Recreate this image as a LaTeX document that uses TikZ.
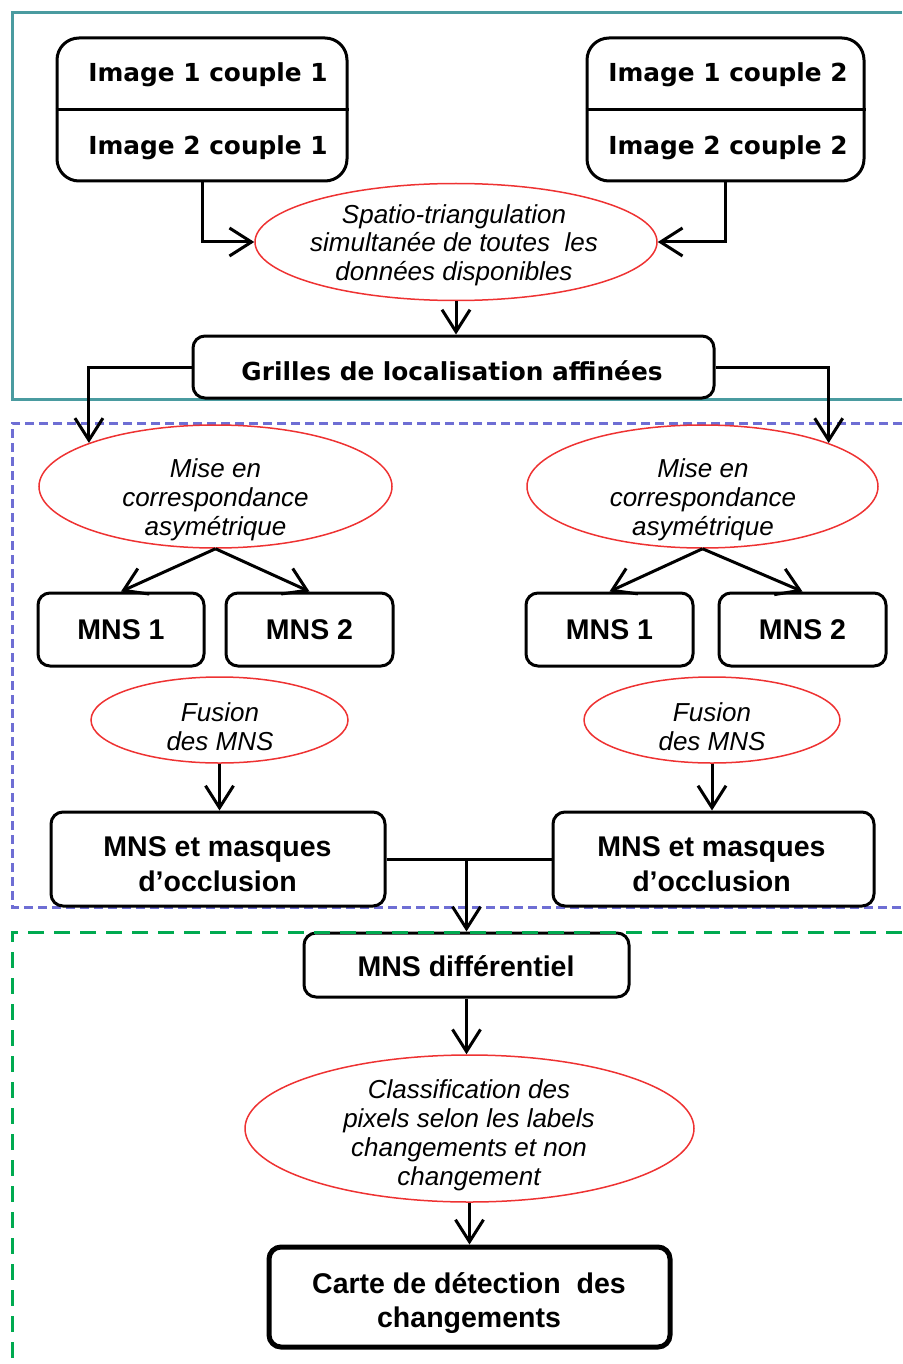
\documentclass[tikz,border=0pt]{standalone}
\usepackage{fontspec}
\setmainfont{Liberation Sans}
\newfontfamily\dvsans{DejaVu Sans}
\usetikzlibrary{arrows.meta,shapes.geometric}
\definecolor{frameteal}{RGB}{74,155,160}
\definecolor{frameblue}{RGB}{110,110,212}
\definecolor{framegreen}{RGB}{0,170,80}
\definecolor{ovalred}{RGB}{238,50,50}
\begin{document}
\begin{tikzpicture}[x=1pt,y=-1pt,
  >={Straight Barb[length=22pt,width=28pt]},
  conn/.style={->,line width=3pt},
  box/.style={draw,line width=3pt,rounded corners=12pt,inner sep=0pt},
  oval/.style={draw=ovalred,ellipse,line width=1.5pt,inner sep=0pt},
  btxt/.style={anchor=base,align=center,inner sep=0pt,font=\bfseries\fontsize{28.5}{35}\selectfont},
  dtxt/.style={anchor=base,inner sep=0pt,font=\dvsans\bfseries\fontsize{24.8}{28}\selectfont},
  itxt/.style={anchor=base,align=center,inner sep=0pt,font=\itshape\fontsize{26}{29}\selectfont},
]
\useasboundingbox (0,0) rectangle (902,1364);
% frames
\draw[frameteal,line width=3pt] (902,13) -- (12,13) -- (12,399) -- (902,399);
\draw[frameblue,line width=3pt,dash pattern=on 9pt off 5pt] (902,423) -- (12,423) -- (12,907) -- (902,907);

% image boxes
\node[box,rounded corners=22pt,minimum width=290pt,minimum height=143pt] (img1) at (202,109.5) {};
\draw[line width=3pt] (img1.west) -- (img1.east);
\node[dtxt] (img1a) at (208,82) {Image 1 couple 1};
\node[dtxt] (img1b) at (208,155) {Image 2 couple 1};
\node[box,rounded corners=22pt,minimum width=277pt,minimum height=143pt] (img2) at (725.5,109.5) {};
\draw[line width=3pt] (img2.west) -- (img2.east);
\node[dtxt] (img2a) at (728,82) {Image 1 couple 2};
\node[dtxt] (img2b) at (728,155) {Image 2 couple 2};

% spatio-triangulation (base = last line)
\node[oval,minimum width=402pt,minimum height=117pt] (spatio) at (456,242) {};
\node[itxt,font=\itshape\fontsize{26}{28.5}\selectfont] (spatiot) at (454,280) {Spatio-triangulation\\simultanée de toutes \ les\\données disponibles};

% grilles
\node[box,minimum width=521pt,minimum height=62pt] (grilles) at (453.5,367) {};
\node[dtxt] (grillest) at (452,380) {Grilles de localisation affinées};

% mise en correspondance
\node[oval,minimum width=353pt,minimum height=123pt] (mise1) at (215.5,486.5) {};
\node[itxt] (mise1t) at (215.5,535) {Mise en\\correspondance\\asymétrique};
\node[oval,minimum width=351pt,minimum height=123pt] (mise2) at (702.5,486.5) {};
\node[itxt] (mise2t) at (703,535) {Mise en\\correspondance\\asymétrique};

% MNS boxes
\node[box,minimum width=166pt,minimum height=73pt] (mns11) at (121,629.5) {};
\node[btxt] (mns11t) at (121,639) {MNS 1};
\node[box,minimum width=167pt,minimum height=73pt] (mns12) at (309.5,629.5) {};
\node[btxt] (mns12t) at (309.5,639) {MNS 2};
\node[box,minimum width=167pt,minimum height=73pt] (mns21) at (609.5,629.5) {};
\node[btxt] (mns21t) at (609.5,639) {MNS 1};
\node[box,minimum width=167pt,minimum height=73pt] (mns22) at (802.5,629.5) {};
\node[btxt] (mns22t) at (802.5,639) {MNS 2};

% fusion
\node[oval,minimum width=257pt,minimum height=86pt] (fus1) at (219.5,720) {};
\node[itxt] (fus1t) at (220,750) {Fusion\\des MNS};
\node[oval,minimum width=256pt,minimum height=86pt] (fus2) at (712,720) {};
\node[itxt] (fus2t) at (712,750) {Fusion\\des MNS};

% MNS et masques
\node[box,minimum width=334pt,minimum height=94pt] (masq1) at (218,859) {};
\node[btxt] (masq1t) at (217.5,891) {MNS et masques\\d’occlusion};
\node[box,minimum width=321pt,minimum height=94pt] (masq2) at (713.5,859) {};
\node[btxt] (masq2t) at (711.5,891) {MNS et masques\\d’occlusion};

% MNS differentiel
\node[box,minimum width=325pt,minimum height=64pt] (diff) at (466.5,965) {};
\node[btxt] (difft) at (466,976) {MNS différentiel};

% classification
\node[oval,minimum width=449pt,minimum height=147pt] (class) at (469.5,1128.5) {};
\node[itxt] (classt) at (469,1185) {Classification des\\pixels selon les labels\\changements et non\\changement};

% carte
\node[box,line width=5pt,minimum width=401pt,minimum height=100pt] (carte) at (469.5,1297) {};
\node[btxt,font=\bfseries\fontsize{28.5}{34}\selectfont] (cartet) at (469,1327) {Carte de détection \ des\\changements};

% green frame
\draw[framegreen,line width=3pt,dash pattern=on 16pt off 10pt] (902,932) -- (12,932) -- (12,1364);

% connectors
\draw[conn] (img1.south) |- (spatio.west);
\draw[conn] (img2.south) |- (spatio.east);
\draw[conn] (spatio.south) -- (spatio.south |- grilles.north);
\draw[conn] (grilles.west) -| (mise1.161);
\draw[conn] (grilles.east) -| (mise2.19.5);
\draw[conn] (mise1.south) -- (mns11.north);
\draw[conn] (mise1.south) -- (mns12.north);
\draw[conn] (mise2.south) -- (mns21.north);
\draw[conn] (mise2.south) -- (mns22.north);
\draw[conn] (fus1.south) -- (fus1.south |- masq1.north);
\draw[conn] (fus2.south) -- (fus2.south |- masq2.north);
\draw[line width=3pt] (masq1.east) -- (masq2.west);
\draw[conn] (diff.north |- masq1.east) -- (diff.north);
\draw[conn] (diff.south) -- (diff.south |- class.north);
\draw[conn] (class.south) -- (class.south |- carte.north);
\end{tikzpicture}
\end{document}
